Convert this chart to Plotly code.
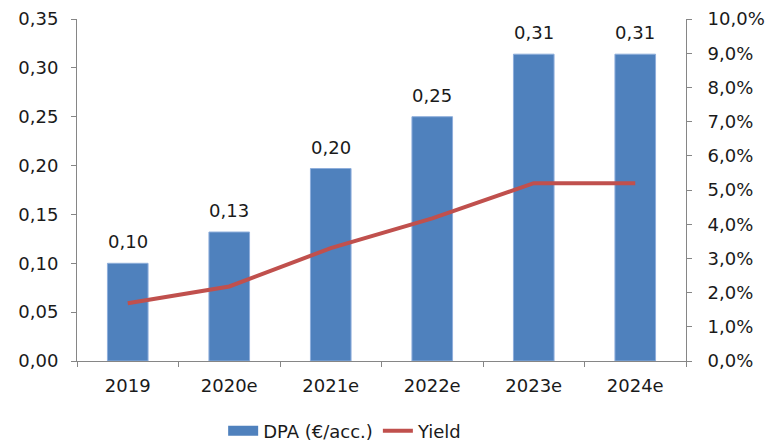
import plotly.graph_objects as go

# Dividend per share and dividend yield, 2019 actual and estimates
years = ["2019", "2020e", "2021e", "2022e", "2023e", "2024e"]
dpa = [0.100, 0.132, 0.197, 0.250, 0.314, 0.314]
yield_pct = [0.0169, 0.0218, 0.0330, 0.0417, 0.0520, 0.0520]

BLUE = "#4F81BD"
RED = "#C0504D"
AXIS = "#868686"
FONT = dict(family="DejaVu Sans", size=18, color="#1a1a1a")

fig = go.Figure()

fig.add_trace(go.Bar(
    x=years, y=dpa, name="DPA (€/acc.)",
    marker=dict(color=BLUE, line=dict(color="#8EAEDB", width=1)),
    width=0.4, showlegend=False, yaxis="y",
))

fig.add_trace(go.Scatter(
    x=years, y=yield_pct, name="Yield", mode="lines",
    line=dict(color=RED, width=4), yaxis="y2", showlegend=False,
))

# legend entries (no visible data)
fig.add_trace(go.Scatter(
    x=[None], y=[None], name="DPA (€/acc.)", mode="lines",
    line=dict(color=BLUE, width=11), yaxis="y",
))
fig.add_trace(go.Scatter(
    x=[None], y=[None], name="Yield", mode="lines",
    line=dict(color=RED, width=4), yaxis="y2",
))

# value labels above the bars (x given as category index)
for i, v in enumerate(dpa):
    fig.add_annotation(
        x=i, y=v, xref="x", yref="y", text=f"{v:.2f}".replace(".", ","),
        showarrow=False, yanchor="bottom", yshift=9, font=FONT,
    )

fig.update_layout(
    width=780, height=443,
    margin=dict(l=77, r=94, t=19, b=82, autoexpand=False),
    paper_bgcolor="white", plot_bgcolor="white",
    separators=", ",
    font=FONT,
    xaxis=dict(
        type="category", categoryorder="array", categoryarray=years,
        range=[-0.5, len(years) - 0.5], tickangle=0,
        showline=True, linecolor=AXIS, linewidth=1,
        ticks="outside", ticklen=5, tickcolor=AXIS, tickson="boundaries",
        ticklabelstandoff=8,
        showgrid=False, tickfont=FONT,
    ),
    yaxis=dict(
        range=[0, 0.35], dtick=0.05, tickformat=".2f",
        showline=True, linecolor=AXIS, linewidth=1,
        ticks="outside", ticklen=5, tickcolor=AXIS, ticklabelstandoff=9,
        showgrid=False, zeroline=False, tickfont=FONT,
    ),
    yaxis2=dict(
        range=[0, 0.10], dtick=0.01, tickformat=".1%",
        overlaying="y", side="right",
        showline=True, linecolor=AXIS, linewidth=1,
        ticks="outside", ticklen=5, tickcolor=AXIS, ticklabelstandoff=12,
        showgrid=False, zeroline=False, tickfont=FONT,
    ),
    legend=dict(
        orientation="h", x=0.24, xanchor="left", y=-0.205, yanchor="middle",
        font=FONT, itemwidth=30, tracegroupgap=0,
    ),
)

fig.write_html("out.html")
